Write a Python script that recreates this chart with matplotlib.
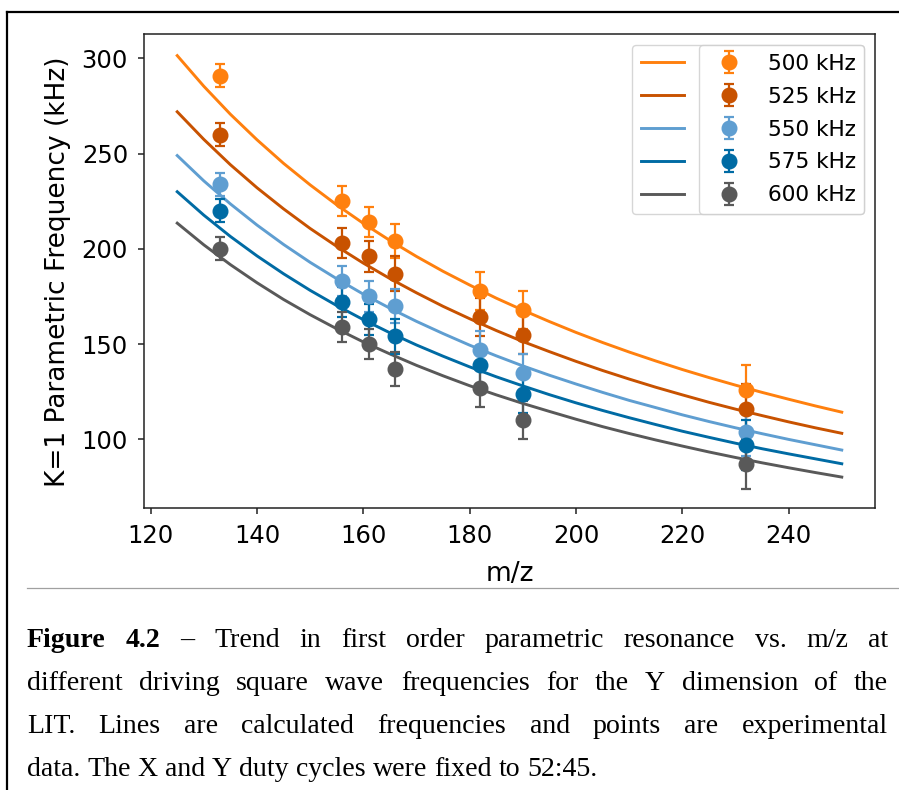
import matplotlib
matplotlib.use("Agg")
import matplotlib.pyplot as plt
from matplotlib.lines import Line2D

# ---- calculated K=1 parametric frequencies (kHz) vs m/z ----
mz_curve = [125, 130, 135, 140, 145, 150, 155, 160, 165, 170, 175, 180, 185,
            190, 195, 200, 205, 210, 215, 220, 225, 230, 235, 240, 245, 250]
calc_500 = [301.5, 285.4, 270.7, 257.3, 244.9, 233.6, 223.1, 213.4, 204.4, 196.0,
            188.2, 181.0, 174.1, 167.8, 161.8, 156.1, 150.8, 145.8, 141.1, 136.6,
            132.4, 128.4, 124.6, 121.0, 117.5, 114.2]
calc_525 = [272.0, 257.5, 244.2, 232.1, 221.0, 210.7, 201.3, 192.5, 184.4, 176.9,
            169.8, 163.3, 157.1, 151.3, 146.0, 140.9, 136.1, 131.6, 127.3, 123.3,
            119.4, 115.8, 112.4, 109.1, 106.0, 103.1]
calc_550 = [249.0, 235.7, 223.6, 212.5, 202.3, 192.9, 184.3, 176.2, 168.8, 161.9,
            155.5, 149.4, 143.8, 138.5, 133.6, 129.0, 124.6, 120.4, 116.6, 112.8,
            109.3, 106.0, 102.9, 99.9, 97.1, 94.3]
calc_575 = [230.0, 217.7, 206.5, 196.3, 186.9, 178.2, 170.2, 162.8, 155.9, 149.5,
            143.6, 138.0, 132.8, 128.0, 123.4, 119.1, 115.1, 111.3, 107.7, 104.2,
            101.0, 97.9, 95.0, 92.3, 89.7, 87.1]
calc_600 = [213.5, 202.1, 191.7, 182.2, 173.4, 165.4, 158.0, 151.1, 144.8, 138.8,
            133.3, 128.1, 123.3, 118.8, 114.6, 110.5, 106.6, 103.0, 99.6, 96.4,
            93.3, 90.4, 87.6, 85.0, 82.5, 80.1]

# ---- experimental points (kHz) ----
mz_points = [133, 156, 161, 166, 182, 190, 232]
exp_500 = [291, 225, 214, 204, 178, 168, 126]
exp_525 = [260, 203, 196, 187, 164, 155, 116]
exp_550 = [234, 183, 175, 170, 147, 135, 104]
exp_575 = [220, 172, 163, 154, 139, 124, 97]
exp_600 = [200, 159, 150, 137, 127, 110, 87]
exp_err = [6, 8, 8, 9, 10, 10, 13]

labels = ["500 kHz", "525 kHz", "550 kHz", "575 kHz", "600 kHz"]
colors = ["#FF800E", "#C85200", "#5F9ED1", "#006BA4", "#595959"]
calc = [calc_500, calc_525, calc_550, calc_575, calc_600]
exps = [exp_500, exp_525, exp_550, exp_575, exp_600]

W, H = 899, 790
fig = plt.figure(figsize=(W / 100, H / 100), dpi=100)
fig.patch.set_facecolor("white")

ax_l, ax_r, ax_t, ax_b = 144, 875, 34.3, 508.3
ax = fig.add_axes([ax_l / W, 1 - ax_b / H, (ax_r - ax_l) / W, (ax_b - ax_t) / H])

line_handles = []
for ys, c in zip(calc, colors):
    ln, = ax.plot(mz_curve, ys, color=c, lw=2.1, zorder=2)
    line_handles.append(ln)

err_handles = []
for ys, c in zip(exps, colors):
    eb = ax.errorbar(mz_points, ys, yerr=exp_err, fmt="o", color=c, ms=10.5,
                     elinewidth=1.6, capsize=3.4, capthick=1.6, zorder=3)
    err_handles.append(eb)

ax.set_xlim(118.75, 256.25)
ax.set_ylim(63.7, 312.7)
ax.set_xticks([120, 140, 160, 180, 200, 220, 240])
ax.set_yticks([100, 150, 200, 250, 300])

ax.set_xlabel("m/z", fontsize=19, labelpad=9)
ax.set_ylabel("K=1 Parametric Frequency (kHz)", fontsize=19, labelpad=8)
ax.tick_params(labelsize=17.5, length=4.5, width=1.1, pad=7, color="#222222")
for s in ax.spines.values():
    s.set_linewidth(1.1)
    s.set_color("#222222")

leg_kw = dict(loc="upper right", fontsize=15.5, labelspacing=0.6,
              borderaxespad=0.5, framealpha=0.8)
leg1 = ax.legend(line_handles, labels, handletextpad=3.9, **leg_kw)
ax.add_artist(leg1)
ax.legend(err_handles, labels, **leg_kw)

# ---- page frame and separator ----
fig.add_artist(Line2D([7 / W, 1.0], [1 - 12 / H, 1 - 12 / H], color="black",
                      lw=1.6, transform=fig.transFigure))
fig.add_artist(Line2D([7 / W, 7 / W], [0.0, 1 - 12 / H], color="black",
                      lw=1.6, transform=fig.transFigure))
fig.add_artist(Line2D([27 / W, 1.0], [1 - 588 / H, 1 - 588 / H], color="#a0a0a0",
                      lw=0.9, transform=fig.transFigure))

# ---- justified caption ----
serif = ["Liberation Serif", "DejaVu Serif"]
caption_lines = [
    [("Figure", "bold"), ("4.2", "bold"), ("–", "normal"), ("Trend", "normal"),
     ("in", "normal"), ("first", "normal"), ("order", "normal"),
     ("parametric", "normal"), ("resonance", "normal"), ("vs.", "normal"),
     ("m/z", "normal"), ("at", "normal")],
    [(w, "normal") for w in "different driving square wave frequencies for the Y dimension of the".split()],
    [(w, "normal") for w in "LIT. Lines are calculated frequencies and points are experimental".split()],
    [(w, "normal") for w in "data. The X and Y duty cycles were fixed to 52:45.".split()],
]
baselines = [647, 690, 733, 776]
x0, x1 = 27, 888

fig.canvas.draw()
renderer = fig.canvas.get_renderer()


def text_width(s, size, weight="normal"):
    t = fig.text(0, 0, s, fontsize=size, family=serif, weight=weight)
    w = t.get_window_extent(renderer).width
    t.remove()
    return w


def space_width(size):
    return text_width("x x", size) - text_width("xx", size)


# font size chosen so the last (unjustified) line spans a fixed width
base = 20.0
nat = sum(text_width(w, base, wt) for w, wt in caption_lines[-1]) + \
    space_width(base) * (len(caption_lines[-1]) - 1)
fs = base * 570.0 / nat

for i, (words, yb) in enumerate(zip(caption_lines, baselines)):
    widths = [text_width(w, fs, wt) for w, wt in words]
    if i < len(caption_lines) - 1:
        gap = (x1 - x0 - sum(widths)) / (len(words) - 1)
    else:
        gap = space_width(fs)
    x = x0
    for (w, wt), wd in zip(words, widths):
        fig.text(x / W, 1 - yb / H, w, fontsize=fs, family=serif, weight=wt,
                 ha="left", va="baseline")
        x += wd + gap

fig.savefig("out.png", dpi=100, facecolor="white")
